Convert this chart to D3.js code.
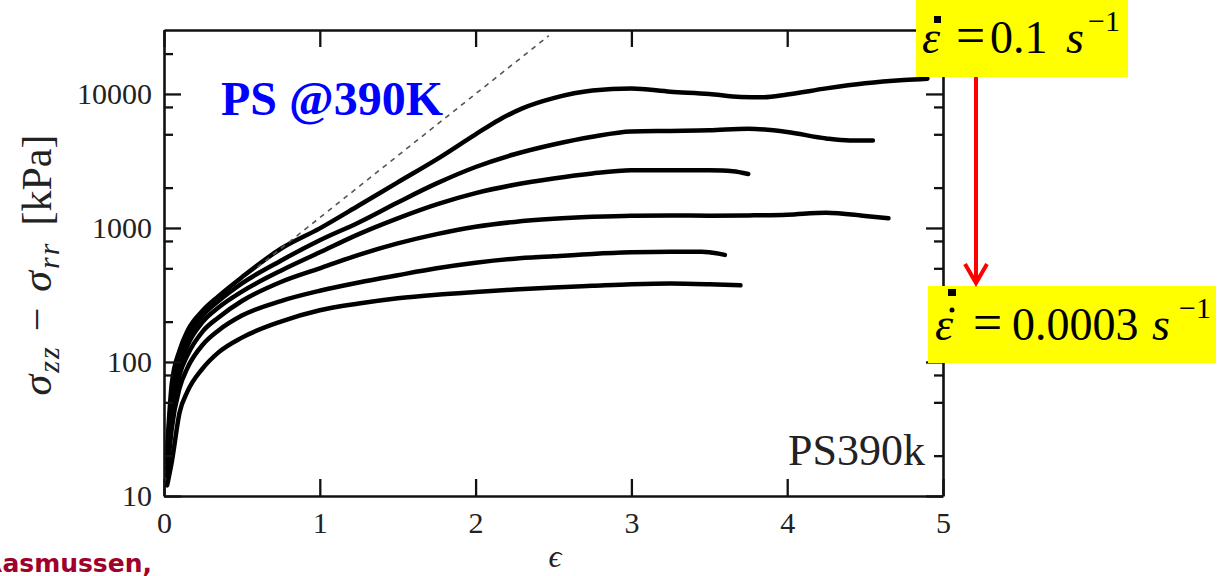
<!DOCTYPE html>
<html>
<head>
<meta charset="utf-8">
<script src="https://cdn.jsdelivr.net/npm/d3@7"></script>
<style>
  html, body { margin: 0; padding: 0; background: #fff; }
  svg { display: block; }
  .axis text { font-family: "Liberation Serif", serif; font-size: 30px; fill: #222; }
  .axis path, .axis line { stroke: #111; }
</style>
</head>
<body>
<svg id="chart" width="1221" height="576"></svg>
<script>
// Axis ticks
const strainTicks = [0, 1, 2, 3, 4, 5];
const stressTicks = [10, 100, 1000, 10000];
const stressMinorTicks = [20, 50, 80, 200, 500, 800, 2000, 5000, 8000, 20000];

// Stress-strain curves, highest strain rate first (stress in kPa)
const strain1 = [0.02, 0.05, 0.1, 0.15, 0.25, 0.35, 0.5, 0.75, 1, 1.25, 1.5, 1.75, 2, 2.15, 2.3, 2.5, 2.75, 3, 3.25, 3.5, 3.7, 3.85, 4, 4.25, 4.5, 4.75, 4.9];
const stress1 = [22, 69, 122, 170, 243, 310, 429, 700, 993, 1470, 2190, 3250, 5000, 6400, 7800, 9300, 10600, 10970, 10400, 10000, 9500, 9450, 9900, 11000, 12000, 12700, 13000];

const strain2 = [0.02, 0.05, 0.1, 0.15, 0.25, 0.35, 0.5, 0.75, 1, 1.25, 1.5, 1.75, 2, 2.25, 2.5, 2.75, 3, 3.25, 3.5, 3.75, 4, 4.25, 4.4, 4.55];
const stress2 = [20, 58, 103, 150, 223, 285, 386, 570, 810, 1100, 1550, 2150, 2850, 3550, 4200, 4800, 5250, 5300, 5350, 5500, 5200, 4650, 4500, 4500];

const strain3 = [0.02, 0.05, 0.1, 0.15, 0.25, 0.35, 0.5, 0.75, 1, 1.25, 1.5, 1.75, 2, 2.25, 2.5, 2.75, 3, 3.25, 3.5, 3.65, 3.75];
const stress3 = [18, 48, 90, 132, 200, 255, 335, 480, 658, 900, 1180, 1500, 1820, 2100, 2340, 2550, 2690, 2700, 2690, 2650, 2530];

const strain4 = [0.02, 0.05, 0.1, 0.15, 0.25, 0.35, 0.5, 0.75, 1, 1.25, 1.5, 1.75, 2, 2.25, 2.5, 2.75, 3, 3.25, 3.5, 3.75, 4, 4.25, 4.5, 4.65];
const stress4 = [16, 40, 80, 112, 170, 215, 285, 395, 500, 630, 767, 900, 1020, 1110, 1170, 1210, 1235, 1240, 1235, 1240, 1255, 1300, 1230, 1180];

const strain5 = [0.02, 0.05, 0.1, 0.15, 0.25, 0.35, 0.5, 0.75, 1, 1.25, 1.5, 1.75, 2, 2.25, 2.5, 2.75, 3, 3.25, 3.45, 3.6];
const stress5 = [14, 32, 64, 90, 135, 172, 222, 285, 340, 392, 444, 500, 550, 590, 614, 640, 658, 665, 665, 630];

const strain6 = [0.02, 0.05, 0.1, 0.15, 0.25, 0.35, 0.5, 0.75, 1, 1.25, 1.5, 1.75, 2, 2.25, 2.5, 2.75, 3, 3.25, 3.5, 3.7];
const stress6 = [12, 18, 42, 60, 90, 118, 152, 200, 243, 273, 299, 318, 333, 347, 360, 370, 380, 385, 380, 373];

// Linear viscoelastic envelope (dashed)
const envelopeStrain = [0.6, 2.47];
const envelopeStress = [510, 27200];

const curves = [
  [strain1, stress1], [strain2, stress2], [strain3, stress3],
  [strain4, stress4], [strain5, stress5], [strain6, stress6]
];

const svg = d3.select("#chart");
const plotLeft = 164, plotRight = 943, plotTop = 30, plotBottom = 496;

const x = d3.scaleLinear().domain([0, 5]).range([plotLeft, plotRight]);
const y = d3.scaleLog().domain([10, 30000]).range([plotBottom, plotTop]);

const line = d3.line()
  .x(d => x(d[0]))
  .y(d => y(d[1]))
  .curve(d3.curveMonotoneX);

// Data curves
const plot = svg.append("g");
curves.forEach(([es, ss]) => {
  plot.append("path")
    .datum(es.map((e, i) => [e, ss[i]]))
    .attr("d", line)
    .attr("fill", "none")
    .attr("stroke", "#000")
    .attr("stroke-width", 4.5)
    .attr("stroke-linejoin", "round")
    .attr("stroke-linecap", "round");
});

plot.append("path")
  .datum(envelopeStrain.map((e, i) => [e, envelopeStress[i]]))
  .attr("d", d3.line().x(d => x(d[0])).y(d => y(d[1])))
  .attr("fill", "none")
  .attr("stroke", "#555")
  .attr("stroke-width", 1.6)
  .attr("stroke-dasharray", "5,5");

// Axes with inward ticks on all four sides
const fmt = d3.format("d");
svg.append("g").attr("class", "axis")
  .attr("transform", `translate(0,${plotBottom})`)
  .call(d3.axisBottom(x).tickValues(strainTicks).tickSize(-17).tickSizeOuter(0).tickPadding(16).tickFormat(fmt));
svg.append("g").attr("class", "axis")
  .attr("transform", `translate(0,${plotTop})`)
  .call(d3.axisTop(x).tickValues(strainTicks).tickSize(-17).tickSizeOuter(0).tickFormat(""));
svg.append("g").attr("class", "axis")
  .attr("transform", `translate(${plotLeft},0)`)
  .call(d3.axisLeft(y).tickValues(stressTicks).tickSize(-17).tickSizeOuter(0).tickPadding(12).tickFormat(fmt));
svg.append("g").attr("class", "axis")
  .attr("transform", `translate(${plotRight},0)`)
  .call(d3.axisRight(y).tickValues(stressTicks).tickSize(-17).tickSizeOuter(0).tickFormat(""));
const gLeftMinor = svg.append("g").attr("class", "axis")
  .attr("transform", `translate(${plotLeft},0)`)
  .call(d3.axisLeft(y).tickValues(stressMinorTicks).tickSize(-9).tickSizeOuter(0).tickFormat(""));
const gRightMinor = svg.append("g").attr("class", "axis")
  .attr("transform", `translate(${plotRight},0)`)
  .call(d3.axisRight(y).tickValues(stressMinorTicks).tickSize(-9).tickSizeOuter(0).tickFormat(""));

svg.selectAll(".axis path.domain").attr("stroke-width", 2.6);
svg.selectAll(".axis .tick line").attr("stroke-width", 2.3);
gLeftMinor.select("path.domain").remove();
gRightMinor.select("path.domain").remove();

// Axis titles
svg.append("text")
  .attr("x", 555).attr("y", 567)
  .attr("text-anchor", "middle")
  .style("font-family", "Liberation Serif, serif")
  .style("font-style", "italic")
  .style("font-size", "32px")
  .attr("fill", "#222")
  .text("ϵ");

const yTitle = svg.append("text")
  .attr("transform", "translate(51,265) rotate(-90)")
  .attr("text-anchor", "middle")
  .style("font-family", "Liberation Serif, serif")
  .style("font-size", "42px")
  .attr("fill", "#222");
yTitle.append("tspan").style("font-style", "italic").text("σ");
yTitle.append("tspan").style("font-style", "italic").style("font-size", "30px")
  .style("letter-spacing", "2px").attr("dx", 2).attr("dy", 8).text("zz");
yTitle.append("tspan").attr("dx", 14).attr("dy", -8).text("−");
yTitle.append("tspan").style("font-style", "italic").attr("dx", 16).text("σ");
yTitle.append("tspan").style("font-style", "italic").style("font-size", "30px")
  .style("letter-spacing", "2px").attr("dx", 2).attr("dy", 8).text("rr");
yTitle.append("tspan").attr("dx", 16).attr("dy", -8).text("[kPa]");

// In-plot labels
svg.append("text")
  .attr("x", 925).attr("y", 465)
  .attr("text-anchor", "end")
  .style("font-family", "Liberation Serif, serif")
  .style("font-size", "44px")
  .attr("fill", "#222")
  .text("PS390k");

svg.append("text")
  .attr("x", 221).attr("y", 115)
  .style("font-family", "Liberation Serif, serif")
  .style("font-weight", "bold")
  .style("font-size", "48px")
  .attr("fill", "#0000ff")
  .text("PS @390K");

// Strain-rate callouts
function rateBox(bx, by, bw, bh, base, parts) {
  svg.append("rect")
    .attr("x", bx).attr("y", by).attr("width", bw).attr("height", bh)
    .attr("fill", "#ffff00");
  const t = svg.append("text")
    .style("font-family", "Liberation Serif, serif")
    .style("font-size", "46px")
    .attr("fill", "#000");
  parts.forEach(p => {
    const s = t.append("tspan").attr("x", p.x).attr("y", p.y === undefined ? base : p.y).text(p.t);
    if (p.it) s.style("font-style", "italic");
    if (p.fs) s.style("font-size", p.fs + "px");
  });
}

rateBox(916, 0, 212, 77, 53, [
  { x: 922, t: "ε", it: true },
  { x: 956, t: "=", fs: 52 },
  { x: 990, t: "0.1" },
  { x: 1066, t: "s", it: true },
  { x: 1088, y: 31, t: "−1", fs: 30 }
]);
svg.append("rect").attr("x", 934).attr("y", 16).attr("width", 7).attr("height", 7).attr("fill", "#000");

rateBox(928, 286, 288, 77, 340, [
  { x: 935, t: "ε", it: true },
  { x: 973, t: "=", fs: 52 },
  { x: 1012, t: "0.0003" },
  { x: 1152, t: "s", it: true },
  { x: 1179, y: 318, t: "−1", fs: 30 }
]);
svg.append("rect").attr("x", 948).attr("y", 289).attr("width", 8).attr("height", 7).attr("fill", "#000");
svg.append("circle").attr("cx", 952).attr("cy", 310).attr("r", 2.5).attr("fill", "#000");

// Arrow from the fastest to the slowest rate
svg.append("line")
  .attr("x1", 976).attr("y1", 77).attr("x2", 976).attr("y2", 282)
  .attr("stroke", "#ff0000").attr("stroke-width", 4);
svg.append("polyline")
  .attr("points", "965,264 976,283 987,264")
  .attr("fill", "none")
  .attr("stroke", "#ff0000").attr("stroke-width", 4)
  .attr("stroke-linejoin", "miter");

// Author credit (runs off the left edge of the slide)
svg.append("text")
  .attr("x", 152).attr("y", 572)
  .attr("text-anchor", "end")
  .style("font-family", "DejaVu Sans, sans-serif")
  .style("font-weight", "bold")
  .style("font-size", "25px")
  .attr("fill", "#a0002a")
  .text("Rasmussen,");
</script>
</body>
</html>
